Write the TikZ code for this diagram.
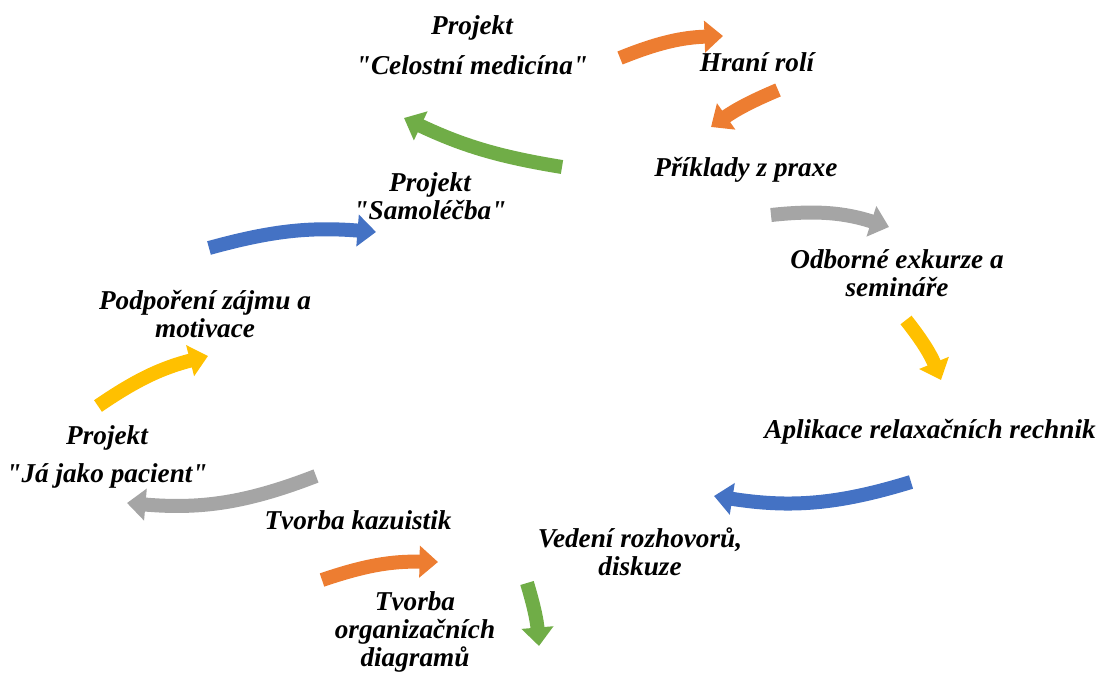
\documentclass[tikz,border=0pt]{standalone}
\usepackage{fontspec}
\setmainfont{Liberation Serif}[Ligatures=TeXOff]
\usetikzlibrary{arrows.meta}

\definecolor{ofOrange}{HTML}{ED7D31}
\definecolor{ofGreen}{HTML}{70AD47}
\definecolor{ofGray}{HTML}{A5A5A5}
\definecolor{ofYellow}{HTML}{FFC000}
\definecolor{ofBlue}{HTML}{4472C4}

\begin{document}
\begin{tikzpicture}[x=0.02cm,y=0.02cm,
  lbl/.style={font=\fontsize{15.5}{16}\selectfont\bfseries\itshape,
              align=center,inner sep=0pt},
  flow/.style={line width=0.28cm,
               -{Triangle[length=0.37cm,width=0.62cm]}}]

  \useasboundingbox (0,0) rectangle (1098,-673);

  % labels round the cycle
  \node[lbl] (celost)  at (472,-45)  {Projekt\\[6.8pt]"Celostní medicína"};
  \node[lbl] (hrani)   at (757,-62)  {Hraní rolí};
  \node[lbl] (priklad) at (746,-170) {Příklady z praxe};
  \node[lbl] (exkurze) at (897,-273) {Odborné exkurze a\\semináře};
  \node[lbl] (relax)   at (930,-432) {Aplikace relaxačních rechnik};
  \node[lbl] (rozhov)  at (640,-552) {Vedení rozhovorů,\\diskuze};
  \node[lbl] (diagram) at (415,-632) {Tvorba\\organizačních\\diagramů};
  \node[lbl] (kazuist) at (358,-520) {Tvorba kazuistik};
  \node[lbl] (pacient) at (107,-457) {Projekt\\[6pt]"Já jako pacient"};
  \node[lbl] (motiv)   at (205,-314) {Podpoření zájmu a\\motivace};
  \node[lbl] (samol)   at (430,-196) {Projekt\\"Samoléčba"};

  % arrow ends
  \coordinate (a1) at (620,-58);  \coordinate (b1) at (723,-36);
  \coordinate (a2) at (778,-90);  \coordinate (b2) at (711,-127);
  \coordinate (a3) at (562,-167); \coordinate (b3) at (404,-118);
  \coordinate (a4) at (771,-215); \coordinate (b4) at (889,-227);
  \coordinate (a5) at (906,-320); \coordinate (b5) at (941,-380);
  \coordinate (a6) at (911,-482); \coordinate (b6) at (714,-496);
  \coordinate (a7) at (527,-583); \coordinate (b7) at (539,-646);
  \coordinate (a8) at (322,-580); \coordinate (b8) at (438,-562);
  \coordinate (a9) at (316,-476); \coordinate (b9) at (127,-503);
  \coordinate (a10) at (98,-406); \coordinate (b10) at (208,-356);
  \coordinate (a11) at (209,-248); \coordinate (b11) at (376,-232);

  % curved block arrows
  \draw[flow,ofOrange] (a1) to[bend left=10] (b1);
  \draw[flow,ofOrange] (a2) to[bend right=6] (b2);
  \draw[flow,ofGreen]  (a3) to[bend left=8] (b3);
  \draw[flow,ofGray]   (a4) to[bend left=12] (b4);
  \draw[flow,ofYellow] (a5) to[bend left=8] (b5);
  \draw[flow,ofBlue]   (a6) to[bend left=13] (b6);
  \draw[flow,ofGreen]  (a7) to[bend left=6] (b7);
  \draw[flow,ofOrange] (a8) to[bend left=10] (b8);
  \draw[flow,ofGray]   (a9) to[bend left=13] (b9);
  \draw[flow,ofYellow] (a10) to[bend left=10] (b10);
  \draw[flow,ofBlue]   (a11) to[bend left=10] (b11);
\end{tikzpicture}
\end{document}
